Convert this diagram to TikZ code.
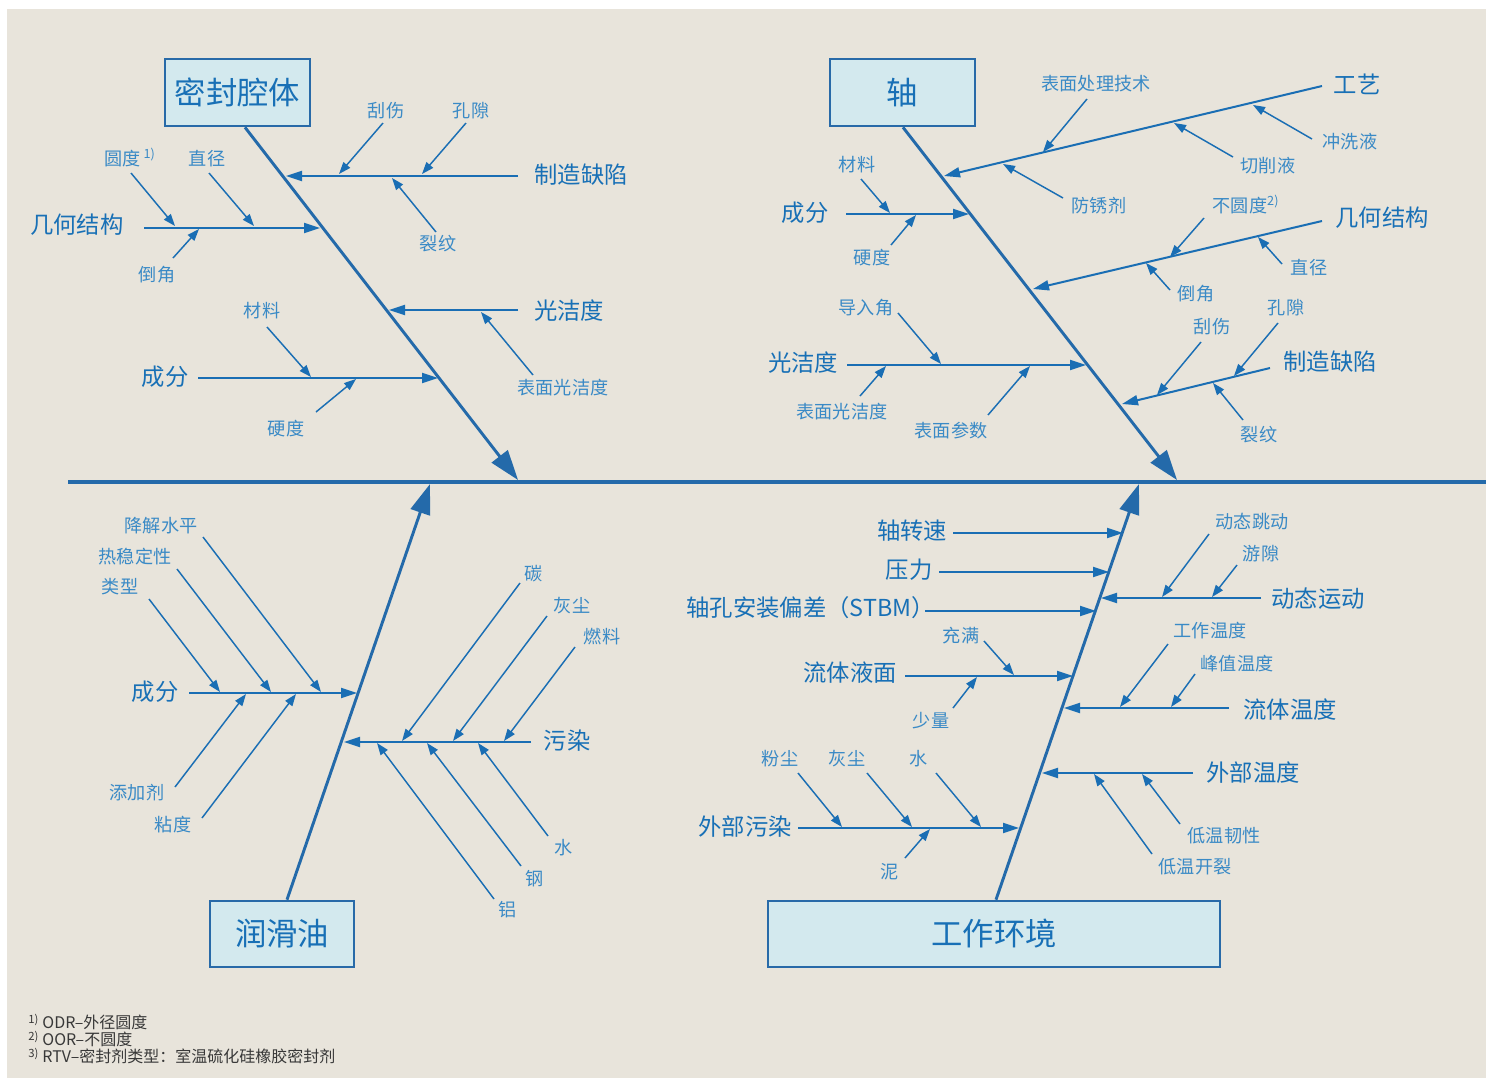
\documentclass[tikz,border=0pt]{standalone}
\usepackage{fontspec}
\setmainfont{Noto Sans CJK SC}
\usetikzlibrary{arrows.meta}
\definecolor{bgc}{RGB}{232,228,219}
\definecolor{spinec}{RGB}{36,106,170}
\definecolor{linec}{RGB}{26,110,180}
\definecolor{bigc}{RGB}{24,112,182}
\definecolor{smallc}{RGB}{58,138,198}
\definecolor{boxfill}{RGB}{211,233,238}
\definecolor{boxline}{RGB}{40,106,168}
\definecolor{notec}{RGB}{56,56,56}
\newcommand\fbsub[5]{%
  \node[small] (#1) at (#3) {#2};
  \coordinate (#1-s) at (#4);
  \coordinate (#1-e) at (#5);
  \draw[subarrow] (#1-s) -- (#1-e);}
\newcommand\fbbranch[5]{%
  \node[big] (#1) at (#3) {#2};
  \coordinate (#1-s) at (#4);
  \coordinate (#1-e) at (#5);
  \draw[branch] (#1-s) -- (#1-e);}
\newcommand\fbnum[1]{{\fontsize{8.5}{9}\selectfont\raisebox{0.4em}{#1}}\hspace{0.25em}}
\begin{document}
\begin{tikzpicture}[x=0.75pt,y=-0.75pt,
  big/.style={text=bigc,font=\fontsize{17.5}{20}\selectfont,inner sep=0pt},
  small/.style={text=smallc,font=\fontsize{13.6}{16}\selectfont,inner sep=0pt},
  box/.style={draw=boxline,fill=boxfill,line width=2pt,text=bigc,
    font=\fontsize{23.5}{26}\selectfont,inner sep=0pt},
  note/.style={text=notec,font=\fontsize{12}{13}\selectfont,inner sep=0pt,anchor=west},
  spine/.style={draw=spinec,line width=3pt},
  bone/.style={draw=spinec,line width=2.2pt,-{Triangle[length=22.5pt,width=15pt]}},
  branch/.style={draw=linec,line width=1.5pt,-{Triangle[length=12pt,width=7.5pt]}},
  subarrow/.style={draw=linec,line width=1.1pt,-{Triangle[length=9pt,width=6.5pt]}}]
\fill[white] (0,0) rectangle (1486,1079);
\fill[bgc] (7,9) rectangle (1486,1078);
\useasboundingbox (0,0) rectangle (1486,1079);

% spine
\coordinate (sp-l) at (68,482);
\coordinate (sp-r) at (1486,482);
\draw[spine] (sp-l) -- (sp-r);

% boxes
\node[box,minimum width=108.75pt,minimum height=50.25pt] (tlbox) at (237.5,92.5) {密封腔体};
\node[box,minimum width=108.75pt,minimum height=50.25pt] (trbox) at (902.5,92.5) {轴};
\node[box,minimum width=108pt,minimum height=49.5pt] (blbox) at (282,934) {润滑油};
\node[box,minimum width=339pt,minimum height=49.5pt] (brbox) at (994,934) {工作环境};

% bones
\coordinate (tl-s) at (245,126); \coordinate (tl-t) at (518,480);
\draw[bone] (tlbox.south -| tl-s) -- (tl-t);
\coordinate (tr-s) at (903,126); \coordinate (tr-t) at (1177,480);
\draw[bone] (trbox.south -| tr-s) -- (tr-t);
\coordinate (bl-s) at (287,901); \coordinate (bl-t) at (430,484);
\draw[bone] (blbox.north -| bl-s) -- (bl-t);
\coordinate (br-s) at (996,901); \coordinate (br-t) at (1139,484);
\draw[bone] (brbox.north -| br-s) -- (br-t);

% ---------- top left ----------
\fbbranch{tl1}{制造缺陷}{581,175}{518,176}{286,176}
\fbsub{tl1a}{刮伤}{386,111}{383,123}{339,174}
\fbsub{tl1b}{孔隙}{471,111}{466,123}{422,174}
\fbsub{tl1c}{裂纹}{438,244}{436,232}{392,178}
\fbbranch{tl2}{几何结构}{77,225}{144,228}{320,228}
\fbsub{tl2a}{圆度\,\textsuperscript{1)}}{130,158}{131,173}{175,226}
\fbsub{tl2b}{直径}{207,159}{209,173}{254,226}
\fbsub{tl2c}{倒角}{157,275}{173,258}{199,229}
\fbbranch{tl3}{光洁度}{569,311}{518,310}{389,310}
\fbsub{tl3a}{表面光洁度}{563,388}{533,375}{481,312}
\fbbranch{tl4}{成分}{165,377}{198,378}{438,378}
\fbsub{tl4a}{材料}{262,311}{267,327}{311,377}
\fbsub{tl4b}{硬度}{286,429}{316,412}{356,379}

% ---------- top right ----------
\fbbranch{tr1}{工艺}{1357,84}{1322,86}{944,176}
\fbsub{tr1a}{表面处理技术}{1096,84}{1087,99}{1043,152}
\fbsub{tr1b}{切削液}{1268,166}{1233,157}{1174,123}
\fbsub{tr1c}{冲洗液}{1350,142}{1312,139}{1253,105}
\fbsub{tr1d}{防锈剂}{1099,206}{1063,198}{1003,164}
\fbbranch{tr2}{几何结构}{1382,218}{1322,221}{1033,289}
\fbsub{tr2a}{不圆度\textsuperscript{2)}}{1246,205}{1204,218}{1170,257}
\fbsub{tr2b}{直径}{1309,268}{1282,264}{1258,237}
\fbsub{tr2c}{倒角}{1196,294}{1170,290}{1146,263}
\fbbranch{tr3}{制造缺陷}{1330,362}{1270,368}{1122,404}
\fbsub{tr3a}{刮伤}{1212,327}{1201,342}{1157,395}
\fbsub{tr3b}{孔隙}{1286,308}{1278,323}{1234,376}
\fbsub{tr3c}{裂纹}{1259,435}{1243,420}{1213,383}
\fbbranch{tr4}{成分}{805,213}{846,214}{969,214}
\fbsub{tr4a}{材料}{857,165}{861,179}{890,213}
\fbsub{tr4b}{硬度}{872,258}{891,245}{916,215}
\fbbranch{tr5}{光洁度}{803,363}{847,365}{1086,365}
\fbsub{tr5a}{导入角}{866,308}{898,313}{941,364}
\fbsub{tr5b}{表面光洁度}{842,412}{860,396}{886,366}
\fbsub{tr5c}{表面参数}{951,431}{988,415}{1030,366}

% ---------- bottom left ----------
\fbbranch{bl1}{成分}{155,692}{189,693}{357,693}
\fbsub{bl1a}{降解水平}{161,526}{203,537}{321,692}
\fbsub{bl1b}{热稳定性}{135,557}{177,569}{271,692}
\fbsub{bl1c}{类型}{120,587}{149,599}{220,692}
\fbsub{bl1d}{添加剂}{137,793}{175,787}{246,694}
\fbsub{bl1e}{粘度}{173,825}{202,818}{296,694}
\fbbranch{bl2}{污染}{567,741}{531,742}{344,742}
\fbsub{bl2a}{碳}{534,574}{520,583}{402,741}
\fbsub{bl2b}{灰尘}{572,606}{547,616}{453,741}
\fbsub{bl2c}{燃料}{602,637}{575,647}{504,741}
\fbsub{bl2d}{水}{564,848}{548,836}{478,743}
\fbsub{bl2e}{钢}{535,879}{521,866}{427,743}
\fbsub{bl2f}{铝}{508,910}{494,899}{377,743}

% ---------- bottom right ----------
\fbbranch{br1}{轴转速}{912,531}{953,533}{1123,533}
\fbbranch{br2}{压力}{909,570}{939,572}{1109,572}
\node[big,anchor=east] (br3) at (935,608) {轴孔安装偏差（STBM）};
\coordinate (br3-s) at (925,611); \coordinate (br3-e) at (1096,611);
\draw[branch] (br3-s) -- (br3-e);
\fbbranch{br4}{动态运动}{1318,599}{1261,598}{1101,598}
\fbsub{br4a}{动态跳动}{1252,522}{1209,534}{1162,597}
\fbsub{br4b}{游隙}{1261,554}{1237,565}{1212,597}
\fbbranch{br5}{流体液面}{850,673}{905,676}{1073,676}
\fbsub{br5a}{充满}{961,636}{984,641}{1014,675}
\fbsub{br5b}{少量}{931,721}{953,708}{977,677}
\fbbranch{br6}{流体温度}{1290,710}{1229,708}{1064,708}
\fbsub{br6a}{工作温度}{1210,631}{1168,644}{1120,707}
\fbsub{br6b}{峰值温度}{1237,664}{1195,674}{1171,707}
\fbbranch{br7}{外部温度}{1253,773}{1193,773}{1042,773}
\fbsub{br7a}{低温韧性}{1224,836}{1180,824}{1142,774}
\fbsub{br7b}{低温开裂}{1195,867}{1152,854}{1094,774}
\fbbranch{br8}{外部污染}{745,827}{798,828}{1019,828}
\fbsub{br8a}{粉尘}{780,759}{798,773}{842,827}
\fbsub{br8b}{灰尘}{847,759}{867,773}{912,827}
\fbsub{br8c}{水}{919,759}{936,773}{981,827}
\fbsub{br8d}{泥}{890,872}{905,858}{930,829}

% footnotes
\node[note] (fn1) at (28,1022) {\fbnum{1)}ODR–外径圆度};
\node[note] (fn2) at (28,1039) {\fbnum{2)}OOR–不圆度};
\node[note] (fn3) at (28,1056) {\fbnum{3)}RTV–密封剂类型：室温硫化硅橡胶密封剂};
\end{tikzpicture}
\end{document}
